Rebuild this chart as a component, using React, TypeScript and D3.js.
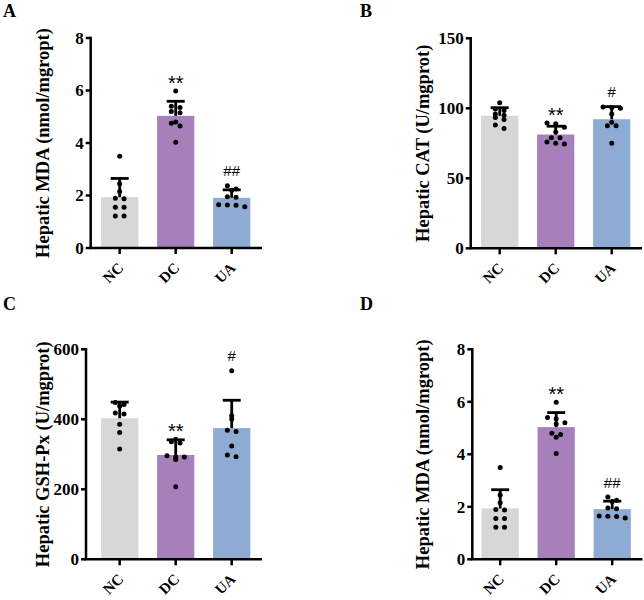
import React from "react";
import * as d3 from "d3";

// Groups shown on every panel
const groups = ["NC", "DC", "UA"];

// Hepatic MDA (nmol/mgprot), individual animals per group
const mdaNC = [3.5, 2.45, 2.15, 1.9, 1.88, 1.55, 1.55, 1.22, 1.22];
const mdaDC = [5.98, 5.4, 5.35, 5.2, 5.15, 4.8, 4.75, 4.65, 4.03];
const mdaUA = [2.37, 2.25, 2.2, 1.95, 1.93, 1.65, 1.64, 1.63, 1.57];

// Hepatic CAT (U/mgprot)
const catNC = [104, 99.5, 98.5, 96, 95, 93.5, 92, 88, 85.5];
const catDC = [89.5, 89, 86.5, 83, 79, 79, 76, 75, 74.5];
const catUA = [101, 100.5, 100, 96, 90, 87.5, 87.5, 75];

// Hepatic GSH-Px (U/mgprot)
const gshNC = [448, 442, 438, 418, 415, 386, 362, 315];
const gshDC = [343, 336, 332, 296, 293, 292, 285, 207];
const gshUA = [539, 410, 401, 369, 365, 324, 298, 293];

// Significance marks per group (vs NC: *, vs DC: #)
const sigMDA = ["", "**", "##"];
const sigCAT = ["", "**", "#"];
const sigGSH = ["", "**", "#"];

// Axis ticks
const ticksMDA = [0, 2, 4, 6, 8];
const ticksCAT = [0, 50, 100, 150];
const ticksGSH = [0, 200, 400, 600];

const barColors = ["#d7d7d7", "#a67fbb", "#8eabd3"];
const serif = "'Times New Roman', 'Liberation Serif', serif";
const sans = "Arial, 'Liberation Sans', sans-serif";

type PanelProps = {
  letter: string;
  letterX: number;
  letterY: number;
  axisX: number;
  bandX0: number;
  top: number;
  bottom: number;
  ticks: number[];
  title: string;
  titleX: number;
  series: number[][];
  sig: string[];
};

function Panel(p: PanelProps) {
  const y = d3
    .scaleLinear()
    .domain([0, d3.max(p.ticks) as number])
    .range([p.bottom, p.top]);
  const x = d3
    .scaleBand<string>()
    .domain(groups)
    .range([p.bandX0, p.bandX0 + 170])
    .paddingInner(0.335)
    .paddingOuter(0.185);
  const xEnd = p.bandX0 + 170;
  const r = 2.5;
  const spacing = 8.7;

  return (
    <g>
      <text x={p.letterX} y={p.letterY} fontFamily={serif} fontWeight="bold" fontSize={18}>
        {p.letter}
      </text>
      {groups.map((g, i) => {
        const vals = p.series[i];
        const mean = d3.mean(vals) as number;
        const sd = d3.deviation(vals) as number;
        const bx = x(g) as number;
        const bw = x.bandwidth();
        const cx = bx + bw / 2;
        // Arrange dots in rows so points at similar heights sit side by side
        const bins = d3.group(
          vals.map((v) => ({ v, py: y(v) })),
          (d) => Math.round(d.py / 6)
        );
        const dots: { px: number; py: number }[] = [];
        bins.forEach((arr) => {
          arr.forEach((d, k) => {
            dots.push({ px: cx + (k - (arr.length - 1) / 2) * spacing, py: d.py });
          });
        });
        const topY = Math.min(y(mean + sd), y(d3.max(vals) as number) - r);
        const isHash = p.sig[i].startsWith("#");
        return (
          <g key={g}>
            <rect x={bx} y={y(mean)} width={bw} height={p.bottom - y(mean)} fill={barColors[i]} />
            <line x1={cx} x2={cx} y1={y(mean)} y2={y(mean + sd)} stroke="#000" strokeWidth={2.8} />
            <line x1={cx - 9} x2={cx + 9} y1={y(mean + sd)} y2={y(mean + sd)} stroke="#000" strokeWidth={2.8} />
            {dots.map((d, k) => (
              <circle key={k} cx={d.px} cy={d.py} r={r} fill="#000" />
            ))}
            {p.sig[i] && (
              <text
                x={cx}
                y={topY - (isHash ? 7 : -1)}
                textAnchor="middle"
                fontFamily={sans}
                fontSize={isHash ? 15 : 20}
              >
                {p.sig[i]}
              </text>
            )}
            <line x1={cx} x2={cx} y1={p.bottom} y2={p.bottom + 6} stroke="#000" strokeWidth={2.5} />
            <text
              transform={`translate(${cx + 1},${p.bottom + 17}) rotate(-45)`}
              textAnchor="end"
              dy="0.35em"
              fontFamily={serif}
              fontWeight="bold"
              fontSize={15}
            >
              {g}
            </text>
          </g>
        );
      })}
      {p.ticks.map((t) => (
        <g key={t}>
          <line x1={p.axisX - 5} x2={p.axisX} y1={y(t)} y2={y(t)} stroke="#000" strokeWidth={2.5} />
          <text
            x={p.axisX - 7}
            y={y(t)}
            dy="0.35em"
            textAnchor="end"
            fontFamily={serif}
            fontWeight="bold"
            fontSize={17}
          >
            {t}
          </text>
        </g>
      ))}
      <path
        d={`M${p.axisX},${p.top} V${p.bottom} H${xEnd}`}
        fill="none"
        stroke="#000"
        strokeWidth={2.5}
        strokeLinecap="square"
      />
      <text
        transform={`translate(${p.titleX},${(p.top + p.bottom) / 2}) rotate(-90)`}
        textAnchor="middle"
        dominantBaseline="central"
        fontFamily={serif}
        fontWeight="bold"
        fontSize={18.5}
      >
        {p.title}
      </text>
    </g>
  );
}

export default function App() {
  return (
    <svg
      width={644}
      height={600}
      style={{ position: "absolute", left: 0, top: 0, background: "#fff" }}
    >
      <rect width={644} height={600} fill="#fff" />
      <Panel
        letter="A"
        letterX={3}
        letterY={17}
        axisX={90.7}
        bandX0={90.7}
        top={38}
        bottom={248}
        ticks={ticksMDA}
        title="Hepatic MDA (nmol/mgropt)"
        titleX={43}
        series={[mdaNC, mdaDC, mdaUA]}
        sig={sigMDA}
      />
      <Panel
        letter="B"
        letterX={360}
        letterY={17}
        axisX={470.7}
        bandX0={470.7}
        top={38.3}
        bottom={248.3}
        ticks={ticksCAT}
        title="Hepatic CAT (U/mgprot)"
        titleX={423}
        series={[catNC, catDC, catUA]}
        sig={sigCAT}
      />
      <Panel
        letter="C"
        letterX={3}
        letterY={310}
        axisX={86}
        bandX0={90.7}
        top={349.3}
        bottom={559.3}
        ticks={ticksGSH}
        title="Hepatic GSH-Px (U/mgprot)"
        titleX={43}
        series={[gshNC, gshDC, gshUA]}
        sig={sigGSH}
      />
      <Panel
        letter="D"
        letterX={360}
        letterY={310}
        axisX={472.3}
        bandX0={471.2}
        top={349.3}
        bottom={559.3}
        ticks={ticksMDA}
        title="Hepatic MDA (nmol/mgropt)"
        titleX={423}
        series={[mdaNC, mdaDC, mdaUA]}
        sig={sigMDA}
      />
    </svg>
  );
}
